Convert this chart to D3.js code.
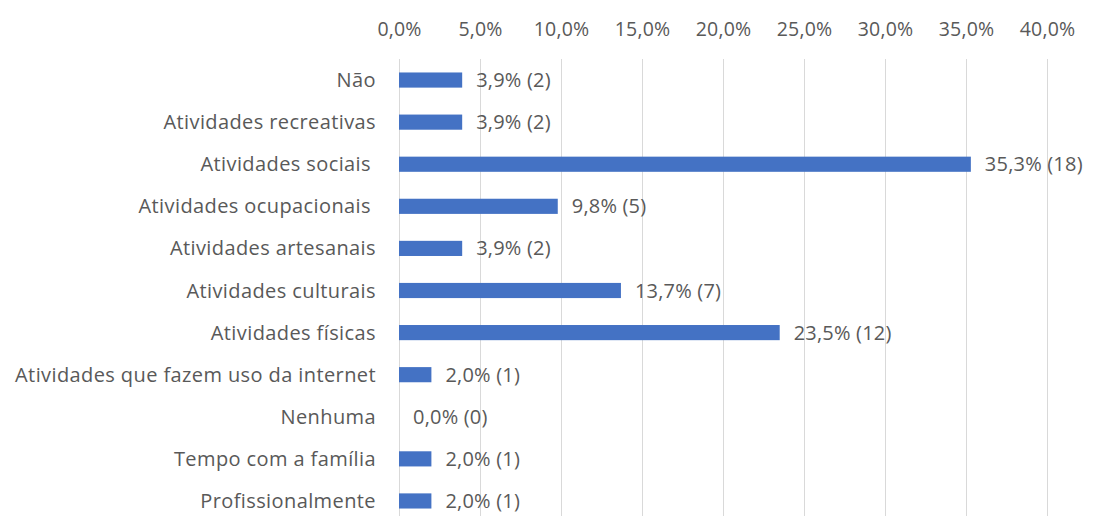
<!doctype html>
<html>
  <head>
    <meta charset="utf-8">
    <script src="https://cdn.jsdelivr.net/npm/d3@7"></script>
    <style>
      body { margin: 0; background: #ffffff; }
      svg { display: block; }
      text { font-family: "Open Sans", sans-serif; fill: #595959; }
    </style>
  </head>
  <body>
    <svg></svg>
    <script>
      // dados do gráfico
      var categorias = ["Não", "Atividades recreativas", "Atividades sociais ", "Atividades ocupacionais ",
        "Atividades artesanais", "Atividades culturais", "Atividades físicas",
        "Atividades que fazem uso da internet", "Nenhuma", "Tempo com a família", "Profissionalmente"];
      var percentuais = [3.9, 3.9, 35.3, 9.8, 3.9, 13.7, 23.5, 2.0, 0.0, 2.0, 2.0];
      var contagens = [2, 2, 18, 5, 2, 7, 12, 1, 0, 1, 1];
      var ticks = [0, 5, 10, 15, 20, 25, 30, 35, 40];

      var width = 1093, height = 516;
      var fs = "20px";
      var svg = d3.select("svg").attr("width", width).attr("height", height);

      var x = d3.scaleLinear().domain([0, 40]).range([399, 1047]);
      var y = d3.scaleBand().domain(categorias).range([59, 522]).paddingInner(0.64).paddingOuter(0.32);

      var fmt = function(v){ return v.toFixed(1).replace(".", ",") + "%"; };

      // linhas de grade
      svg.append("g").selectAll("line").data(ticks).enter().append("line")
        .attr("x1", d => x(d) + 0.5).attr("x2", d => x(d) + 0.5)
        .attr("y1", 59).attr("y2", height)
        .style("stroke", "#d9d9d9").style("stroke-width", 1);

      // eixo superior
      var axis = d3.axisTop(x).tickValues(ticks).tickFormat(fmt).tickSize(0);
      var gx = svg.append("g").attr("transform", "translate(0,39)").call(axis);
      gx.select(".domain").remove();
      gx.selectAll("text").style("font-size", "19.5px").style("letter-spacing", "0.2px")
        .attr("font-family", null).attr("fill", "#595959");

      // barras
      svg.append("g").selectAll("rect").data(percentuais).enter().append("rect")
        .attr("x", x(0))
        .attr("y", (d, i) => y(categorias[i]))
        .attr("width", d => x(d) - x(0))
        .attr("height", y.bandwidth())
        .style("fill", "#4472c4");

      // rótulos das categorias
      svg.append("g").selectAll("text").data(categorias).enter().append("text")
        .text(d => d.trim())
        .attr("x", d => d.endsWith(" ") ? 371 : 376)
        .attr("y", d => y(d) + y.bandwidth() / 2)
        .attr("dy", "0.35em")
        .attr("text-anchor", "end")
        .style("font-size", fs)
        .style("letter-spacing", "0.4px");

      // rótulos dos valores
      svg.append("g").selectAll("text").data(percentuais).enter().append("text")
        .text((d, i) => fmt(d) + " (" + contagens[i] + ")")
        .attr("x", d => x(d) + 14)
        .attr("y", (d, i) => y(categorias[i]) + y.bandwidth() / 2)
        .attr("dy", "0.35em")
        .style("font-size", fs)
        .style("letter-spacing", "0.2px");
    </script>
  </body>
</html>
